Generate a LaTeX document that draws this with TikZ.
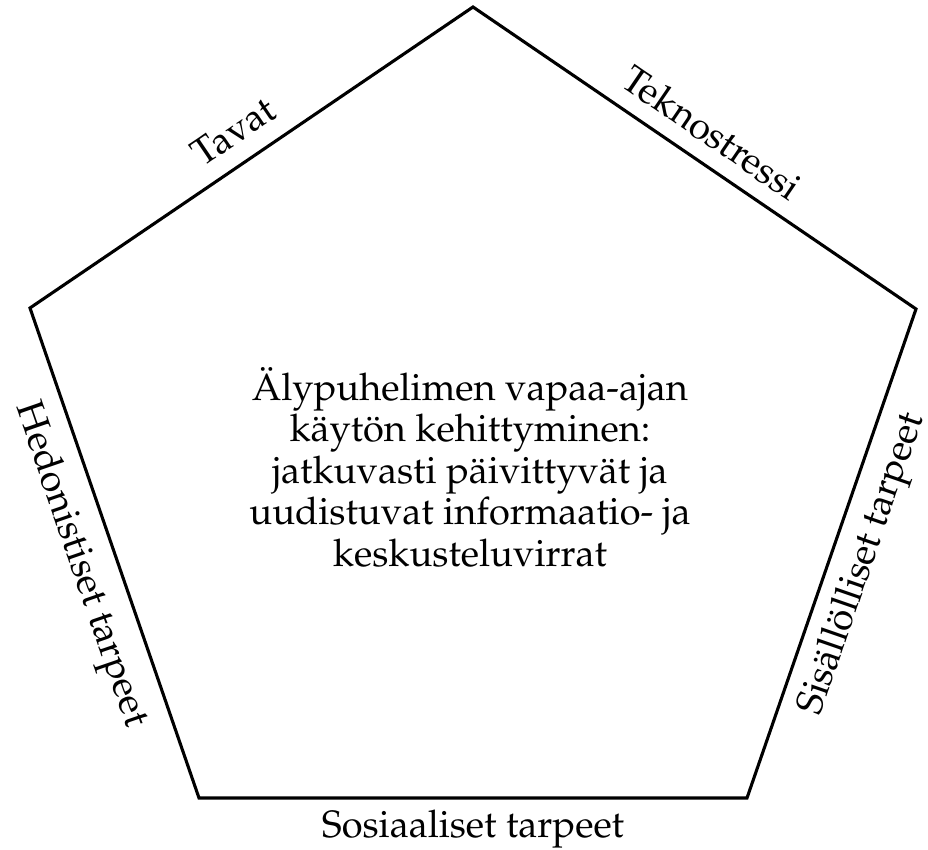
\documentclass[tikz,border=0pt]{standalone}
\usepackage[T1]{fontenc}
\usepackage{mathpazo}
\usetikzlibrary{calc}
\begin{document}
\begin{tikzpicture}[x=1bp,y=1bp,
  edge/.style={line width=3.1bp, line join=miter},
  lbl/.style={font=\fontsize{38bp}{41.5bp}\selectfont, inner sep=0pt},
  ]
\useasboundingbox (0,0) rectangle (928,850);
% pentagon corners
\coordinate (T)  at (473,843);
\coordinate (R)  at (916,541);
\coordinate (BR) at (747,52);
\coordinate (BL) at (199,52);
\coordinate (L)  at (30,542);
\draw[edge] (L) -- (T) -- (R) -- (BR) -- (BL) -- cycle;
% edge midpoints
\coordinate (mLT) at ($(L)!0.5!(T)$);
\coordinate (mTR) at ($(T)!0.5!(R)$);
\coordinate (mRB) at ($(R)!0.5!(BR)$);
\coordinate (mB)  at ($(BR)!0.5!(BL)$);
\coordinate (mBL) at ($(BL)!0.5!(L)$);
% labels outside the edges
\node[lbl, rotate=34.2]  (tavat) at ($(mLT)!32bp!90:(T)$) {Tavat};
\node[lbl, rotate=-34.3] (tekno) at ($(mTR)!31bp!90:(R)$) {Teknostressi};
\node[lbl, rotate=70.9]  (sis)   at ($(mRB)!34bp!90:(BR)$) {Sis\"all\"olliset tarpeet};
\node[lbl]               (sos)   at ($(mB)!31bp!90:(BL)$) {Sosiaaliset tarpeet};
\node[lbl, rotate=-71]   (hed)   at ($(mBL)!37bp!90:(L)$) {Hedonistiset tarpeet};
% centre text
\node[lbl, align=center] (core) at (470,383)
  {\"Alypuhelimen vapaa-ajan\\k\"ayt\"on kehittyminen:\\jatkuvasti p\"aivittyv\"at ja\\uudistuvat informaatio- ja\\keskusteluvirrat};
\end{tikzpicture}
\end{document}
